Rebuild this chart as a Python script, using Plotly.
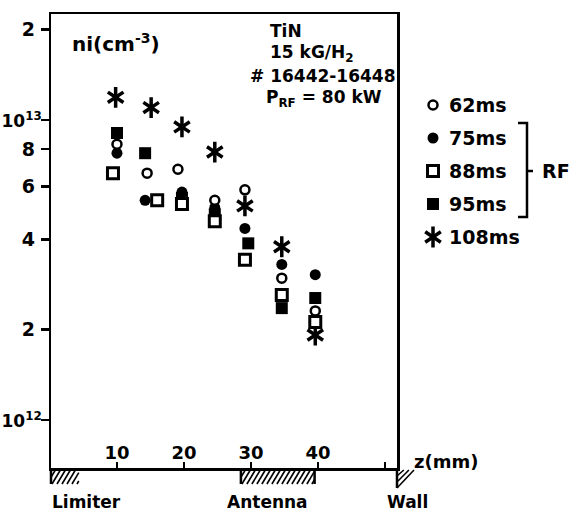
import plotly.graph_objects as go

W, H = 576, 515
FONT = "DejaVu Sans"
NB = "\u00a0"

# ---------------- data (density in units of 1e12 cm^-3) ----------------
series_names = ["62ms", "75ms", "88ms", "95ms", "108ms"]
z_62 = [10.0, 14.5, 19.1, 24.6, 29.1, 34.6, 39.6]
n_62 = [8.30, 6.65, 6.85, 5.40, 5.85, 2.97, 2.31]
z_75 = [10.0, 14.2, 19.7, 24.6, 29.1, 34.6, 39.6]
n_75 = [7.75, 5.40, 5.75, 5.10, 4.35, 3.30, 3.05]
z_88 = [9.4, 16.0, 19.7, 24.6, 29.1, 34.6, 39.6]
n_88 = [6.65, 5.40, 5.25, 4.60, 3.42, 2.61, 2.12]
z_95 = [10.0, 14.2, 19.7, 24.6, 29.6, 34.6, 39.6]
n_95 = [9.05, 7.75, 5.50, 4.85, 3.88, 2.36, 2.55]
z_108 = [9.8, 15.1, 19.7, 24.6, 29.1, 34.6, 39.6]
n_108 = [11.9, 11.0, 9.48, 7.82, 5.17, 3.78, 1.92]

x_tickvals = [10, 20, 30, 40, 50]
y_tickvals = [1e12, 2e12, 4e12, 6e12, 8e12, 1e13, 2e13]
y_ticktext = ["<span style='font-size:17px'>10<sup>12</sup></span>",
              "2" + NB, "4" + NB, "6" + NB, "8" + NB,
              "<span style='font-size:17px'>10<sup>13</sup></span>", "2" + NB]

info_lines = ["TiN", "15 kG/H<sub>2</sub>", "# 16442-16448", "P<sub>RF</sub> = 80 kW"]
regions = {"Limiter": (0.15, 4.0), "Antenna": (28.5, 39.5)}
region_labels = ["Limiter", "Antenna", "Wall"]

# ---------------- geometry (page pixels) ----------------
PX_L, PX_R, PX_T, PX_B = 51, 397, 14, 468
X_RANGE = [0.15, 51.8]
Y_RANGE = [11.84, 13.3533]


def zpx(z):
    return PX_L + (z - X_RANGE[0]) / (X_RANGE[1] - X_RANGE[0]) * (PX_R - PX_L)


styles = {
    "62ms": dict(symbol="circle", size=9, color="white", line=dict(color="black", width=2.5)),
    "75ms": dict(symbol="circle", size=11, color="black", line=dict(color="black", width=0)),
    "88ms": dict(symbol="square", size=11, color="white", line=dict(color="black", width=3)),
    "95ms": dict(symbol="square", size=12, color="black", line=dict(color="black", width=0)),
    "108ms_a": dict(symbol="y-up-open", size=13, color="black", line=dict(color="black", width=3.5)),
    "108ms_b": dict(symbol="y-down-open", size=13, color="black", line=dict(color="black", width=3.5)),
}

data = {
    "62ms": (z_62, n_62),
    "75ms": (z_75, n_75),
    "88ms": (z_88, n_88),
    "95ms": (z_95, n_95),
    "108ms": (z_108, n_108),
}

fig = go.Figure()

draw_order = ["95ms", "75ms", "108ms", "88ms", "62ms"]
for name in draw_order:
    zs, ns = data[name]
    ys = [v * 1e12 for v in ns]
    keys = ["108ms_a", "108ms_b"] if name == "108ms" else [name]
    for k in keys:
        fig.add_trace(go.Scatter(x=zs, y=ys, mode="markers", name=name,
                                 marker=styles[k], showlegend=False, hoverinfo="skip"))

# ---------------- manual legend on a full-page overlay axis ----------------
LEG_X, LEG_TX, LEG_Y0, LEG_DY = 433, 447, 105, 33
for i, name in enumerate(series_names):
    y = LEG_Y0 + i * LEG_DY
    keys = ["108ms_a", "108ms_b"] if name == "108ms" else [name]
    for k in keys:
        fig.add_trace(go.Scatter(x=[LEG_X], y=[y], mode="markers", marker=styles[k],
                                 xaxis="x2", yaxis="y2", showlegend=False, hoverinfo="skip"))


def text(x, y, s, size=18, xanchor="left"):
    fig.add_annotation(xref="x2", yref="y2", x=x, y=y, text=s, showarrow=False,
                       xanchor=xanchor, yanchor="middle",
                       font=dict(family=FONT, size=size, color="black", weight="bold"))


for i, name in enumerate(series_names):
    text(LEG_TX, LEG_Y0 + i * LEG_DY, name, size=19)

# RF bracket around 75..95 ms
yb0, yb1 = LEG_Y0 + LEG_DY - 15, LEG_Y0 + 3 * LEG_DY + 13
ymid = LEG_Y0 + 2 * LEG_DY
fig.add_shape(type="path", xref="x2", yref="y2",
              path=f"M 518 {yb0} L 527 {yb0} L 527 {yb1} L 518 {yb1}",
              line=dict(color="black", width=2.5))
fig.add_shape(type="line", xref="x2", yref="y2", x0=527, x1=533, y0=ymid, y1=ymid,
              line=dict(color="black", width=2.5))
text(540, ymid, "RF", size=19)

# in-plot texts
text(70, 43, "ni(cm<sup>-3</sup>)", size=20)
info_pos = [(268, 31), (268, 53), (248, 76), (264, 98)]
for (x, y), s in zip(info_pos, info_lines):
    text(x, y, s, size=17)

text(412, 461, "z(mm)", size=18)

# ---------------- hatched regions below the z axis ----------------
HB = PX_B + 16


def hatch(a, b, y_top, y_bot, d=9, step=5, width=1.6):
    x0 = a - d
    while x0 < b:
        t0 = max(0.0, (a - x0) / d)
        t1 = min(1.0, (b - x0) / d)
        if t1 > t0:
            xa, xb = x0 + d * t0, x0 + d * t1
            ya = y_bot + (y_top - y_bot) * t0
            yb = y_bot + (y_top - y_bot) * t1
            fig.add_shape(type="line", xref="x2", yref="y2", x0=xa, y0=ya, x1=xb, y1=yb,
                          line=dict(color="black", width=width))
        x0 += step


la, lb = regions["Limiter"]
hatch(zpx(la), zpx(lb) + 2, PX_B + 1, HB)
fig.add_shape(type="line", xref="x2", yref="y2", x0=PX_L, x1=PX_L, y0=PX_B, y1=HB,
              line=dict(color="black", width=2.5))

aa, ab = regions["Antenna"]
hatch(zpx(aa), zpx(ab), PX_B + 1, HB)
for xe in (zpx(aa), zpx(ab)):
    fig.add_shape(type="line", xref="x2", yref="y2", x0=xe, x1=xe, y0=PX_B, y1=HB,
                  line=dict(color="black", width=2.5))

# wall
fig.add_shape(type="line", xref="x2", yref="y2", x0=PX_R, x1=PX_R, y0=PX_B, y1=PX_B + 20,
              line=dict(color="black", width=2.5))
for L in [20, 14, 8]:
    fig.add_shape(type="line", xref="x2", yref="y2", x0=PX_R, y0=PX_B + L,
                  x1=PX_R + L * 0.85, y1=PX_B + 2,
                  line=dict(color="black", width=1.6))

text(PX_L - 1, 502, region_labels[0], size=17)
text((zpx(aa) + zpx(ab)) / 2 - 10, 502, region_labels[1], size=17, xanchor="center")
text(PX_R + 10, 502, region_labels[2], size=17, xanchor="center")

# ---------------- layout ----------------
fig.update_layout(
    width=W, height=H, autosize=False,
    margin=dict(l=0, r=0, t=0, b=0, pad=0),
    paper_bgcolor="white", plot_bgcolor="rgba(0,0,0,0)",
    showlegend=False,
    font=dict(family=FONT, size=18, color="black", weight="bold"),
    xaxis=dict(
        domain=[PX_L / W, PX_R / W], range=X_RANGE, automargin=False,
        showline=True, linecolor="black", linewidth=2.5, mirror=True,
        showgrid=False, zeroline=False,
        tickmode="array", tickvals=x_tickvals,
        ticks="inside", ticklen=6, tickwidth=2, tickcolor="black",
        ticklabelposition="inside",
        tickfont=dict(family=FONT, size=18, color="black", weight="bold"),
    ),
    yaxis=dict(
        type="log", automargin=False,
        domain=[1 - PX_B / H, 1 - PX_T / H], range=Y_RANGE,
        showline=True, linecolor="black", linewidth=2.5, mirror=True,
        showgrid=False, zeroline=False,
        tickmode="array", tickvals=y_tickvals, ticktext=y_ticktext,
        ticks="outside", ticklen=8, tickwidth=2.5, tickcolor="black",
        ticklabelstandoff=-5,
        tickfont=dict(family=FONT, size=19, color="black", weight="bold"),
    ),
    xaxis2=dict(domain=[0, 1], range=[0, W], anchor="y2", visible=False,
                fixedrange=True, automargin=False),
    yaxis2=dict(domain=[0, 1], range=[H, 0], anchor="x2", visible=False,
                fixedrange=True, automargin=False),
)

fig.write_html("out.html", config={"displayModeBar": False, "staticPlot": True})
